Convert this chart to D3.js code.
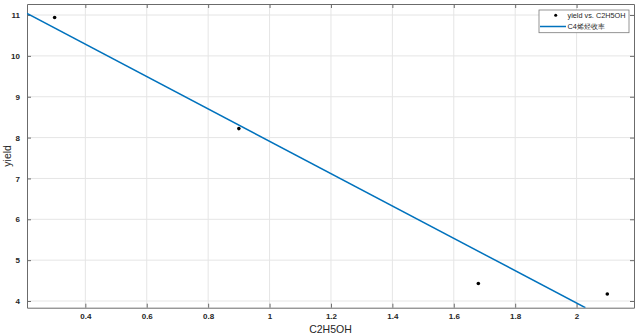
<!DOCTYPE html>
<html>
<head>
<meta charset="utf-8">
<script src="https://cdn.jsdelivr.net/npm/d3@7"></script>
<style>
  body { margin: 0; background: #fff; }
  text { font-family: "Liberation Sans", Arial, sans-serif; fill: #262626; }
</style>
</head>
<body>
<svg id="chart"></svg>
<script>
// measured points
var ethanol = [0.30, 0.90, 1.68, 2.10];
var yieldVals = [10.94, 8.22, 4.43, 4.17];
// fitted line, two ends
var fitX = [0.21, 2.0287];
var fitY = [11.04, 3.836];
var xTicks = [0.4, 0.6, 0.8, 1, 1.2, 1.4, 1.6, 1.8, 2];
var yTicks = [4, 5, 6, 7, 8, 9, 10, 11];
var legendLabels = ['yield vs. C2H5OH', 'C4烯烃收率'];

var canvasWidth = 637, canvasHeight = 335;
var margin = {top: 4, right: 3, bottom: 27.3, left: 27};
var width = canvasWidth - margin.left - margin.right;
var height = canvasHeight - margin.top - margin.bottom;

var svg = d3.select('#chart')
  .attr('width', canvasWidth)
  .attr('height', canvasHeight);

var x = d3.scaleLinear().domain([0.21, 2.187]).range([0, width]);
var y = d3.scaleLinear().domain([3.836, 11.27]).range([height, 0]);

var g = svg.append('g')
  .attr('transform', 'translate(' + margin.left + ',' + margin.top + ')');

svg.append('defs').append('clipPath').attr('id', 'clip')
  .append('rect').attr('width', width).attr('height', height);

// grid
g.selectAll('.gx').data(xTicks).enter().append('line')
  .attr('x1', function(d) { return x(d); }).attr('x2', function(d) { return x(d); })
  .attr('y1', 0).attr('y2', height)
  .attr('stroke', '#e5e5e5').attr('stroke-width', 1);
g.selectAll('.gy').data(yTicks).enter().append('line')
  .attr('y1', function(d) { return y(d); }).attr('y2', function(d) { return y(d); })
  .attr('x1', 0).attr('x2', width)
  .attr('stroke', '#e5e5e5').attr('stroke-width', 1);

// axes (ticks inside, box all round)
var fmt = function(d) { return String(d); };
var xAxis = g.append('g').attr('transform', 'translate(0,' + height + ')')
  .call(d3.axisBottom(x).tickValues(xTicks).tickFormat(fmt).tickSizeInner(-4).tickSizeOuter(0).tickPadding(6));
var yAxis = g.append('g')
  .call(d3.axisLeft(y).tickValues(yTicks).tickFormat(fmt).tickSizeInner(-4).tickSizeOuter(0).tickPadding(7));
var xTop = g.append('g')
  .call(d3.axisTop(x).tickValues(xTicks).tickFormat('').tickSizeInner(-4).tickSizeOuter(0));
var yRight = g.append('g').attr('transform', 'translate(' + width + ',0)')
  .call(d3.axisRight(y).tickValues(yTicks).tickFormat('').tickSizeInner(-4).tickSizeOuter(0));

[xAxis, yAxis, xTop, yRight].forEach(function(a) {
  a.select('.domain').attr('stroke', '#6b6b6b').attr('stroke-width', 1);
  a.selectAll('.tick line').attr('stroke', '#6b6b6b');
  a.selectAll('.tick text').style('font-size', '8px').style('font-weight', 'bold').attr('fill', '#262626');
});

// fit line
g.append('path')
  .datum(d3.zip(fitX, fitY))
  .attr('clip-path', 'url(#clip)')
  .attr('d', d3.line().x(function(d) { return x(d[0]); }).y(function(d) { return y(d[1]); }))
  .attr('fill', 'none')
  .attr('stroke', '#0072BD')
  .attr('stroke-width', 1.5);

// points
g.selectAll('.pt').data(d3.zip(ethanol, yieldVals)).enter().append('circle')
  .attr('cx', function(d) { return x(d[0]); })
  .attr('cy', function(d) { return y(d[1]); })
  .attr('r', 1.8)
  .attr('fill', '#000');

// axis labels
svg.append('text')
  .attr('x', margin.left + width / 2)
  .attr('y', 332.5)
  .attr('text-anchor', 'middle')
  .style('font-size', '10.5px')
  .text('C2H5OH');
svg.append('text')
  .attr('transform', 'translate(11,' + (margin.top + height / 2) + ') rotate(-90)')
  .attr('text-anchor', 'middle')
  .style('font-size', '10.5px')
  .text('yield');

// legend
var lg = svg.append('g').attr('transform', 'translate(539,10)');
lg.append('rect')
  .attr('width', 90).attr('height', 22.7)
  .attr('fill', '#fff').attr('stroke', '#7a7a7a').attr('stroke-width', 0.8);
lg.append('circle').attr('cx', 16.7).attr('cy', 5.2).attr('r', 1.5).attr('fill', '#000');
lg.append('line').attr('x1', 1).attr('x2', 27).attr('y1', 16.5).attr('y2', 16.5)
  .attr('stroke', '#0072BD').attr('stroke-width', 1.5);
lg.selectAll('.lt').data(legendLabels).enter().append('text')
  .attr('x', 28.5)
  .attr('y', function(d, i) { return 8 + i * 11; })
  .style('font-size', '7.3px')
  .text(function(d) { return d; });
</script>
</body>
</html>
